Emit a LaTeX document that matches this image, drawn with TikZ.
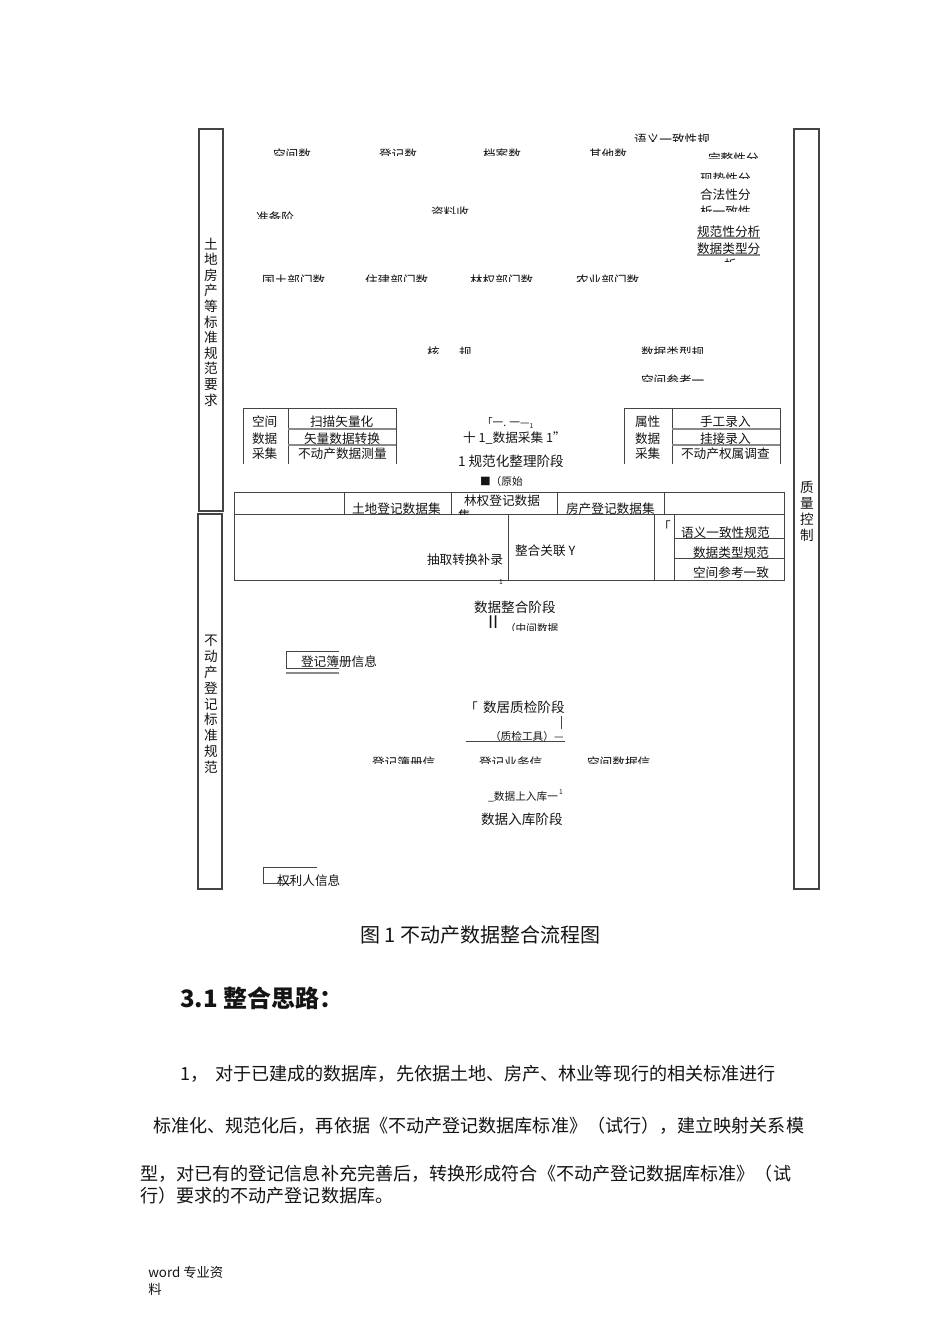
\documentclass[tikz,border=0pt]{standalone}
\usepackage{fontspec}
\setmainfont{Noto Sans CJK SC}
\definecolor{ink}{HTML}{141414}
\definecolor{rule}{HTML}{444444}
\definecolor{softrule}{HTML}{8A8A8A}
\tikzset{
  lbl/.style={inner sep=0pt,outer sep=0pt,anchor=west,text=ink,font=\fontsize{9.5pt}{11pt}\selectfont,text height=.82em,text depth=.1em},
  stage/.style={lbl,font=\fontsize{10.2pt}{12pt}\selectfont},
  frame/.style={draw=rule,line width=.8pt},
  ln/.style={draw=rule,line width=.55pt},
  softln/.style={draw=softrule,line width=1pt},
  small/.style={font=\fontsize{8pt}{9pt}\selectfont},
  vert/.style={inner sep=0pt,anchor=center,text=ink,font=\fontsize{10.2pt}{11pt}\selectfont},
  para/.style={inner sep=0pt,anchor=base west,text=ink,font=\fontsize{13.56pt}{16pt}\selectfont},
}
% name, x, y-centre, clip top, clip bottom, text
\newcommand{\cliplbl}[6]{\begin{scope}\clip (0,#4) rectangle (950,#5);\node[lbl] (#1) at (#2,#3) {#6};\end{scope}}
\begin{document}
\begin{tikzpicture}[x=0.75pt,y=-0.75pt]
\useasboundingbox (0,0) rectangle (950,1344);
\fill[white] (0,0) rectangle (950,1344);
% side frames
\draw[frame] (199,129) rectangle (223,511);
\draw[frame] (198,514) rectangle (222,889);
\draw[frame] (794,129) rectangle (819,889);
\foreach \c [count=\i from 0] in {土,地,房,产,等,标,准,规,范,要,求}{\node[vert] (a\i) at (211,244+15.6*\i) {\c};}
\foreach \c [count=\i from 0] in {不,动,产,登,记,标,准,规,范}{\node[vert] (b\i) at (211,641+15.75*\i) {\c};}
\foreach \c [count=\i from 0] in {质,量,控,制}{\node[vert] (c\i) at (807,487+16*\i) {\c};}
% clipped top region
\cliplbl{t1}{634}{140}{130}{141.5}{语义一致性规}
\cliplbl{t2}{273}{155}{140}{155.5}{空间数}
\cliplbl{t3}{379}{155}{140}{155.5}{登记数}
\cliplbl{t4}{483}{155}{140}{155.5}{档案数}
\cliplbl{t5}{589}{155}{140}{155.5}{其他数}
\cliplbl{t6}{708}{159}{145}{159}{完整性分}
\cliplbl{t7}{700}{179}{165}{178.5}{现势性分}
\node[lbl] (t8) at (700,195) {合法性分};
\cliplbl{t9}{700}{212}{202}{212}{析一致性}
\node[lbl] (t10) at (697,231.5) {规范性分析};
\draw[softln] (697,238) -- (760,238);
\node[lbl] (t11) at (697,248.5) {数据类型分};
\draw[softln] (697,255) -- (760,255);
\cliplbl{t12}{724}{265}{259}{262}{析}
\cliplbl{t13}{256}{218}{205}{218.5}{准备阶}
\cliplbl{t14}{431}{213}{200}{213.5}{资料收}
\cliplbl{t15}{262}{281}{268}{281.5}{国土部门数}
\cliplbl{t16}{365}{281}{268}{281.5}{住建部门数}
\cliplbl{t17}{470}{281}{268}{281.5}{林权部门数}
\cliplbl{t18}{576}{281}{268}{281.5}{农业部门数}
\cliplbl{t19}{427}{353}{340}{353}{核}
\cliplbl{t20}{459}{353}{340}{353}{规}
\cliplbl{t21}{641}{353}{340}{353}{数据类型规}
\cliplbl{t22}{641}{381}{368}{381}{空间参考一}
% left collection table
\draw[ln] (243,464) -- (243,408) -- (396,408) -- (396,464);
\draw[ln] (288,408) -- (288,464);
\draw[softln] (288,429) -- (396,429);
\draw[softln] (288,445) -- (396,445);
\node[lbl] (l1) at (252,422) {空间};
\node[lbl] (l2) at (252,439) {数据};
\node[lbl] (l3) at (252,454) {采集};
\node[lbl] (l4) at (310,422) {扫描矢量化};
\node[lbl] (l5) at (304,439) {矢量数据转换};
\node[lbl] (l6) at (298,454) {不动产数据测量};
% right collection table
\draw[ln] (624,464) -- (624,408) -- (780,408) -- (780,464);
\draw[ln] (672,408) -- (672,464);
\draw[softln] (672,429) -- (780,429);
\draw[softln] (672,445) -- (780,445);
\node[lbl] (r1) at (635,422) {属性};
\node[lbl] (r2) at (635,439) {数据};
\node[lbl] (r3) at (635,454) {采集};
\node[lbl] (r4) at (700,422) {手工录入};
\node[lbl] (r5) at (700,439) {挂接录入};
\node[lbl] (r6) at (681,454) {不动产权属调查};
% centre labels
\node[lbl,small] (m1) at (482,422) {「一. 一—\raisebox{-1pt}{\fontsize{5pt}{5pt}\selectfont 1}};
\node[lbl] (m2) at (463,438) {十 1\_数据采集 1”};
\node[stage] (m3) at (458,462) {1 规范化整理阶段};
\begin{scope}\clip (470,470) rectangle (530,486);
\node[lbl,small] (m4) at (480,481) {■（原始};
\end{scope}
% integration table
\draw[ln] (234,492) rectangle (784,580);
\draw[ln] (234,514) -- (784,514);
\foreach \x in {344,451,557,664}{\draw[ln] (\x,492) -- (\x,514);}
\foreach \x in {508,654,674.5}{\draw[ln] (\x,514) -- (\x,580);}
\draw[ln] (674.5,538) -- (784,538);
\draw[ln] (674.5,558) -- (784,558);
\cliplbl{d1}{352}{509}{495}{514}{土地登记数据集}
\node[lbl] (d2) at (464,501) {林权登记数据};
\cliplbl{d3}{458}{516}{505}{514}{集}
\cliplbl{d4}{566}{509}{495}{514}{房产登记数据集}
\node[lbl] (d5) at (681,532.5) {语义一致性规范};
\node[lbl] (d6) at (693,552.5) {数据类型规范};
\node[lbl] (d7) at (693,572.5) {空间参考一致};
\node[lbl] (d8) at (427,559.5) {抽取转换补录};
\node[lbl] (d9) at (515,551) {整合关联 Y};
\node[lbl] (d10) at (658,527) {「};
\node[lbl,font=\fontsize{5pt}{5pt}\selectfont] (d11) at (499,580) {1};
\node[stage] (m5) at (474,607.5) {数据整合阶段};
\node[lbl,font=\fontsize{13pt}{13pt}\selectfont] (m6) at (488,624) {II};
\begin{scope}\clip (500,615) rectangle (560,630);
\node[lbl,small] (m7) at (505,628) {（中间数据};
\end{scope}
% register booklet
\draw[ln] (339,651) -- (286,651) -- (286,668) -- (339,668);
\draw[softln] (286,673) -- (339,673);
\node[lbl] (q1) at (301,661.5) {登记簿册信息};
% quality stage
\node[lbl] (q2) at (465,707.5) {「};
\node[stage] (q3) at (483,707.5) {数居质检阶段};
\draw[ln] (561,716) -- (561,729);
\node[lbl,small] (q4) at (490,736) {（质检工具）—};
\draw[ln] (465.5,741) -- (565,741);
\cliplbl{q5}{372}{763}{750}{763.5}{登记簿册信}
\cliplbl{q6}{479}{763}{750}{763.5}{登记业务信}
\cliplbl{q7}{587}{763}{750}{763.5}{空间数据信}
\node[lbl,small] (q8) at (488,796) {\_数据上入库一};
\node[lbl,font=\fontsize{5pt}{5pt}\selectfont] (q9) at (559,790) {1};
\node[stage] (q10) at (481,819.5) {数据入库阶段};
% rights holder
\draw[ln] (316.5,867) -- (263.5,867) -- (263.5,883) -- (290,883);
\node[lbl] (q11) at (277,880.5) {权利人信息};
% caption and body text
\node[inner sep=0pt,anchor=base west,text=ink,font=\fontsize{15pt}{16pt}\selectfont] (cap) at (360,942) {图 1 不动产数据整合流程图};
\node[inner sep=0pt,anchor=base west,text=ink,font=\fontsize{18pt}{20pt}\selectfont\bfseries] (head) at (180,1007) {3.1 整合思路：};
\node[para] (p0) at (180,1080.5) {1，};
\node[para] (p1) at (215,1080.5) {对于已建成的数据库，先依据土地、房产、林业等现行的相关标准进行};
\node[para] (p2) at (153,1132.5) {标准化、规范化后，再依据《不动产登记数据库标准》（试行），建立映射关系模};
\node[para] (p3) at (140,1180.5) {型，对已有的登记信息补充完善后，转换形成符合《不动产登记数据库标准》（试};
\node[para] (p4) at (140,1202.5) {行）要求的不动产登记数据库。};
\node[inner sep=0pt,anchor=base west,text=ink,font=\fontsize{10pt}{12pt}\selectfont] (f1) at (148,1277) {word 专业资};
\node[inner sep=0pt,anchor=base west,text=ink,font=\fontsize{10pt}{12pt}\selectfont] (f2) at (148,1294) {料};
\end{tikzpicture}
\end{document}
